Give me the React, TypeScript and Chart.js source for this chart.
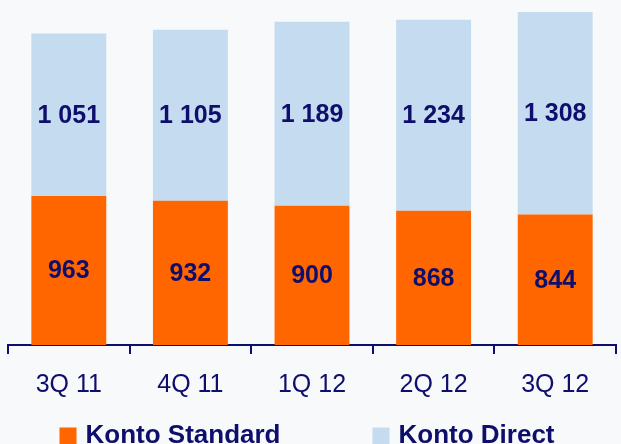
import React, { useEffect, useRef } from "react";
import { Chart, registerables } from "chart.js";

Chart.register(...registerables);

const categories = ["3Q 11", "4Q 11", "1Q 12", "2Q 12", "3Q 12"];
const kontoStandard = [963, 932, 900, 868, 844];
const kontoDirect = [1051, 1105, 1189, 1234, 1308];
const seriesNames = ["Konto Standard", "Konto Direct"];
const seriesColors = ["#ff6600", "#c5dbef"];

const NAVY = "#0e0e6c";
const FONT = "'Liberation Sans', Arial, sans-serif";

const fmt = (v: number) => String(v).replace(/\B(?=(\d{3})+(?!\d))/g, " ");

const valueLabels = {
  id: "valueLabels",
  afterDatasetsDraw(chart: any) {
    const ctx = chart.ctx;
    ctx.save();
    ctx.font = `bold 25px ${FONT}`;
    ctx.fillStyle = NAVY;
    ctx.textAlign = "center";
    ctx.textBaseline = "middle";
    chart.data.datasets.forEach((ds: any, di: number) => {
      const meta = chart.getDatasetMeta(di);
      meta.data.forEach((el: any, i: number) => {
        const y = (el.y + el.base) / 2;
        ctx.fillText(fmt(ds.data[i]), el.x, y + 1);
      });
    });
    ctx.restore();
  },
};

const customLegend = {
  id: "customLegend",
  afterDraw(chart: any) {
    const ctx = chart.ctx;
    ctx.save();
    ctx.font = `bold 26px ${FONT}`;
    const box = 17;
    const gap = 9;
    const itemGap = 92;
    const items = chart.data.datasets.map((ds: any) => ({
      label: ds.label,
      color: ds.backgroundColor,
      w: box + gap + ctx.measureText(ds.label).width,
    }));
    const total = items.reduce((s: number, it: any) => s + it.w, 0) + itemGap * (items.length - 1);
    let x = 307 - total / 2;
    const baseline = chart.height - 1.5;
    items.forEach((it: any) => {
      ctx.fillStyle = it.color;
      ctx.fillRect(x, baseline - 15, box, box);
      ctx.fillStyle = NAVY;
      ctx.textAlign = "left";
      ctx.textBaseline = "alphabetic";
      ctx.fillText(it.label, x + box + gap, baseline);
      x += it.w + itemGap;
    });
    ctx.restore();
  },
};

export default function App() {
  const ref = useRef<HTMLCanvasElement>(null);
  useEffect(() => {
    if (!ref.current) return;
    const chart = new Chart(ref.current, {
      type: "bar",
      data: {
        labels: categories,
        datasets: [
          {
            label: seriesNames[0],
            data: kontoStandard,
            backgroundColor: seriesColors[0],
            barPercentage: 0.616,
            categoryPercentage: 1,
          },
          {
            label: seriesNames[1],
            data: kontoDirect,
            backgroundColor: seriesColors[1],
            barPercentage: 0.616,
            categoryPercentage: 1,
          },
        ],
      },
      options: {
        responsive: false,
        animation: false,
        layout: { padding: { left: 8, right: 5, top: 0, bottom: 28 } },
        plugins: {
          legend: { display: false },
          tooltip: { enabled: false },
        },
        scales: {
          x: {
            stacked: true,
            offset: true,
            grid: {
              offset: true,
              drawOnChartArea: false,
              drawTicks: true,
              tickLength: 9,
              color: NAVY,
              lineWidth: 2,
            },
            border: { display: true, color: NAVY, width: 2 },
            ticks: {
              color: NAVY,
              font: { family: FONT, size: 25 },
              padding: 16,
              maxRotation: 0,
            },
          },
          y: {
            stacked: true,
            display: false,
            min: 0,
            max: 2230,
          },
        },
      },
      plugins: [valueLabels, customLegend],
    });
    return () => chart.destroy();
  }, []);
  return (
    <div
      style={{
        position: "fixed",
        left: 0,
        top: 0,
        width: 621,
        height: 444,
        overflow: "hidden",
        background: "#f7f9fb",
      }}
    >
      <canvas ref={ref} width={621} height={444} style={{ display: "block" }} />
    </div>
  );
}
